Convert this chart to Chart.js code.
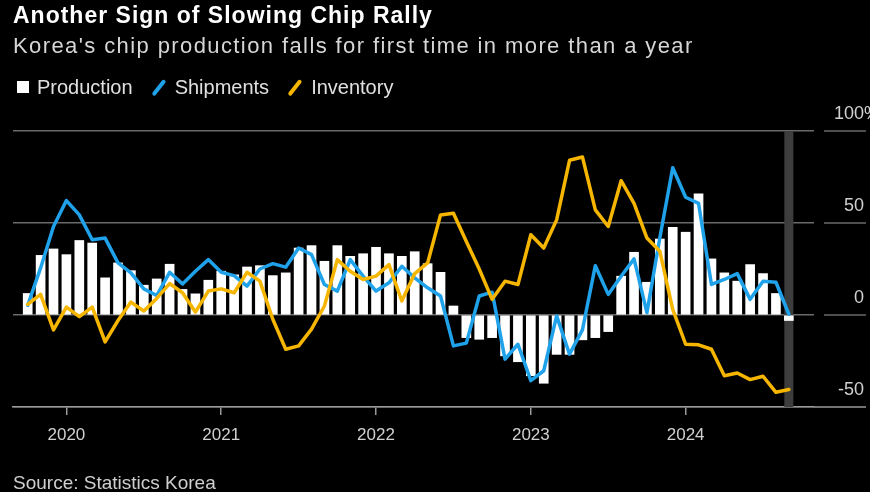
<!DOCTYPE html>
<html>
<head>
<meta charset="utf-8">
<script src="https://cdn.jsdelivr.net/npm/chart.js@4.4.1/dist/chart.umd.min.js"></script>
<style>
  html, body { margin: 0; padding: 0; background: #000; }
  body {
    width: 870px; height: 492px; position: relative; overflow: hidden;
    font-family: 'Liberation Sans', Arial, sans-serif; color: #e0e0e0;
  }
  #chart-wrap { position: absolute; left: 0; top: 0; width: 870px; height: 492px; }
  .title {
    position: absolute; left: 13px; top: 4px; white-space: nowrap;
    font-size: 23px; line-height: 23px; font-weight: bold; color: #fff; letter-spacing: 1px;
  }
  .subtitle {
    position: absolute; left: 13px; top: 35px; white-space: nowrap;
    font-size: 22px; line-height: 22px; color: #d6d6d6; letter-spacing: 1.4px;
  }
  .legend {
    position: absolute; left: 17px; top: 77px; display: flex; gap: 18px;
    font-size: 20px; line-height: 20px; color: #e0e0e0;
  }
  .legend-item { display: flex; align-items: center; gap: 8px; }
  .swatch-box { width: 12px; height: 12px; background: #fff; }
  .swatch-line { width: 16px; height: 17px; position: relative; }
  .swatch-line::after {
    content: ''; position: absolute; left: 6px; top: -1px; width: 3.5px; height: 19px;
    border-radius: 2px; background: var(--c); transform: rotate(38deg);
  }
  .source {
    position: absolute; left: 13px; top: 473px; white-space: nowrap;
    font-size: 19px; line-height: 19px; color: #cfcfcf;
  }
</style>
</head>
<body>
<div id="chart-wrap"><canvas id="chart"></canvas></div>
<div class="title">Another Sign of Slowing Chip Rally</div>
<div class="subtitle">Korea's chip production falls for first time in more than a year</div>
<div class="legend">
  <div class="legend-item"><span class="swatch-box"></span>Production</div>
  <div class="legend-item"><span class="swatch-line" style="--c:#1fa2ea"></span>Shipments</div>
  <div class="legend-item"><span class="swatch-line" style="--c:#f6b600"></span>Inventory</div>
</div>
<div class="source">Source: Statistics Korea</div>
<script>
// Korea chip production, shipments and inventory, % change from a year earlier.
const months = [
  '2019-10', '2019-11', '2019-12',
  '2020-01', '2020-02', '2020-03', '2020-04', '2020-05', '2020-06', '2020-07', '2020-08', '2020-09', '2020-10', '2020-11', '2020-12',
  '2021-01', '2021-02', '2021-03', '2021-04', '2021-05', '2021-06', '2021-07', '2021-08', '2021-09', '2021-10', '2021-11', '2021-12',
  '2022-01', '2022-02', '2022-03', '2022-04', '2022-05', '2022-06', '2022-07', '2022-08', '2022-09', '2022-10', '2022-11', '2022-12',
  '2023-01', '2023-02', '2023-03', '2023-04', '2023-05', '2023-06', '2023-07', '2023-08', '2023-09', '2023-10', '2023-11', '2023-12',
  '2024-01', '2024-02', '2024-03', '2024-04', '2024-05', '2024-06', '2024-07', '2024-08', '2024-09'
];

const production = [
  11.7, 32.4, 35.9,
  32.8, 40.5, 39.1, 20.2, 28.3, 24.1, 16.2, 19.6, 27.6, 13.9, 11.5, 18.9,
  23.8, 21.8, 26.1, 26.8, 21.4, 22.9, 36.4, 37.7, 29.2, 37.7, 31.9, 33.3,
  36.8, 33.3, 31.9, 34.4, 27.9, 23.2, 4.9, -12.3, -13.2, -12.3, -22.2, -25.4,
  -33.0, -37.1, -21.4, -21.4, -13.5, -12.3, -9.0, 21.1, 34.1, 17.8, 41.3, 47.7,
  45.0, 65.8, 30.5, 22.9, 18.4, 27.4, 22.5, 11.7, -3.0
];

const shipments = [
  5.2, 25.6, 48.1,
  62.2, 54.4, 40.9, 41.8, 28.3, 22.9, 14.2, 10.6, 23.2, 16.9, 23.8, 30.1,
  23.2, 21.4, 15.7, 25.0, 27.9, 26.0, 36.4, 32.8, 16.6, 13.0, 30.1, 21.1,
  13.0, 17.5, 26.5, 20.2, 14.8, 10.3, -16.8, -15.3, 10.3, 12.4, -24.0, -15.9,
  -35.7, -30.3, -0.5, -21.3, -8.1, 26.8, 11.2, 21.1, 30.5, 1.3, 42.0, 80.0,
  64.0, 60.7, 16.6, 19.3, 22.5, 8.5, 18.4, 17.8, 0.4
];

const inventory = [
  5.8, 11.2, -8.1,
  4.3, -0.9, 4.3, -14.6, -3.0, 7.0, 2.2, 9.0, 17.1, 12.1, 1.6, 13.0,
  14.2, 12.1, 23.2, 18.4, -2.3, -18.6, -16.8, -7.7, 4.9, 30.1, 23.8, 19.3,
  21.1, 27.4, 7.6, 22.5, 28.3, 54.4, 55.3, 40.0, 25.0, 8.5, 18.4, 16.6,
  43.6, 36.4, 51.7, 84.1, 85.9, 57.1, 48.1, 73.0, 60.7, 41.8, 34.6, 3.0,
  -15.9, -16.2, -18.6, -33.0, -31.5, -35.1, -33.3, -42.0, -40.5
];

const yearLabels = ['2020', '2021', '2022', '2023', '2024'];
const yTicks = [-50, 0, 50, 100];
const highlightMonth = '2024-09';

const BLUE = '#1fa2ea';
const YELLOW = '#f6b600';
const GRID = '#6a6a6a';
const AXIS = '#9a9a9a';
const LABEL = '#d0d0d0';
const FONT = '"Liberation Sans", Arial, sans-serif';

const yearIndex = yearLabels.map((year) => months.indexOf(year + '-01'));
const toPoints = (values) => values.map((value, i) => ({ x: i, y: value }));

// Grey column behind the latest month.
const highlightPlugin = {
  id: 'highlightBand',
  beforeDatasetsDraw(chart) {
    const { ctx, chartArea, scales } = chart;
    const i = months.indexOf(highlightMonth);
    const left = scales.x.getPixelForValue(i - 0.35);
    const right = scales.x.getPixelForValue(i + 0.35);
    ctx.save();
    ctx.fillStyle = '#3d3d3d';
    ctx.fillRect(left, chartArea.top, right - left, chartArea.bottom - chartArea.top);
    ctx.restore();
  }
};

// Bloomberg-style right gutter: short rule under each value label, label sits above it,
// the % hangs past the right edge.
const gutterPlugin = {
  id: 'rightGutter',
  afterDraw(chart) {
    const { ctx, chartArea, scales } = chart;
    const lineEnd = 866;
    const labelRight = 864;
    ctx.save();
    ctx.font = '18px ' + FONT;
    ctx.fillStyle = LABEL;
    ctx.textAlign = 'left';
    ctx.textBaseline = 'alphabetic';
    yTicks.forEach((value) => {
      const py = scales.y.getPixelForValue(value);
      const isBase = value === yTicks[0];
      ctx.strokeStyle = isBase ? AXIS : GRID;
      ctx.lineWidth = 1.5;
      ctx.beginPath();
      ctx.moveTo(isBase ? chartArea.right : chartArea.right + 10, py);
      ctx.lineTo(lineEnd, py);
      ctx.stroke();
      const text = String(value);
      const w = ctx.measureText(text).width;
      ctx.fillText(value === 100 ? text + '%' : text, labelRight - w, py - 12.5);
    });
    ctx.restore();
  }
};

Chart.defaults.font.family = FONT;

new Chart(document.getElementById('chart'), {
  type: 'bar',
  data: {
    datasets: [
      {
        type: 'line',
        label: 'Inventory',
        data: toPoints(inventory),
        borderColor: YELLOW,
        borderWidth: 3.5,
        borderJoinStyle: 'round',
        borderCapStyle: 'round',
        pointRadius: 0,
        order: 1
      },
      {
        type: 'line',
        label: 'Shipments',
        data: toPoints(shipments),
        borderColor: BLUE,
        borderWidth: 3.5,
        borderJoinStyle: 'round',
        borderCapStyle: 'round',
        pointRadius: 0,
        order: 2
      },
      {
        type: 'bar',
        label: 'Production',
        data: toPoints(production),
        backgroundColor: '#ffffff',
        barThickness: 9,
        order: 3
      }
    ]
  },
  options: {
    responsive: true,
    maintainAspectRatio: false,
    animation: false,
    layout: { padding: { top: 131, left: 13, right: 56, bottom: 45 } },
    plugins: { legend: { display: false }, tooltip: { enabled: false } },
    scales: {
      x: {
        type: 'linear',
        offset: false,
        min: -1.14,
        max: 60.95,
        afterBuildTicks: (scale) => { scale.ticks = yearIndex.map((v) => ({ value: v })); },
        afterFit: (scale) => { scale.height = 40; },
        grid: { offset: false, drawOnChartArea: false, drawTicks: true, tickLength: 8, color: AXIS, lineWidth: 1.5 },
        border: { display: true, color: AXIS, width: 1.5 },
        ticks: {
          color: LABEL,
          font: { size: 17 },
          padding: 10,
          maxRotation: 0,
          autoSkip: false,
          callback: (value) => yearLabels[yearIndex.indexOf(value)]
        }
      },
      y: {
        position: 'right',
        min: -50,
        max: 100,
        afterBuildTicks: (scale) => { scale.ticks = yTicks.map((v) => ({ value: v })); },
        afterFit: (scale) => { scale.width = 0; },
        grid: { color: GRID, lineWidth: 1.5, drawTicks: false },
        border: { display: false },
        ticks: { display: false }
      }
    }
  },
  plugins: [highlightPlugin, gutterPlugin]
});
</script>
</body>
</html>
